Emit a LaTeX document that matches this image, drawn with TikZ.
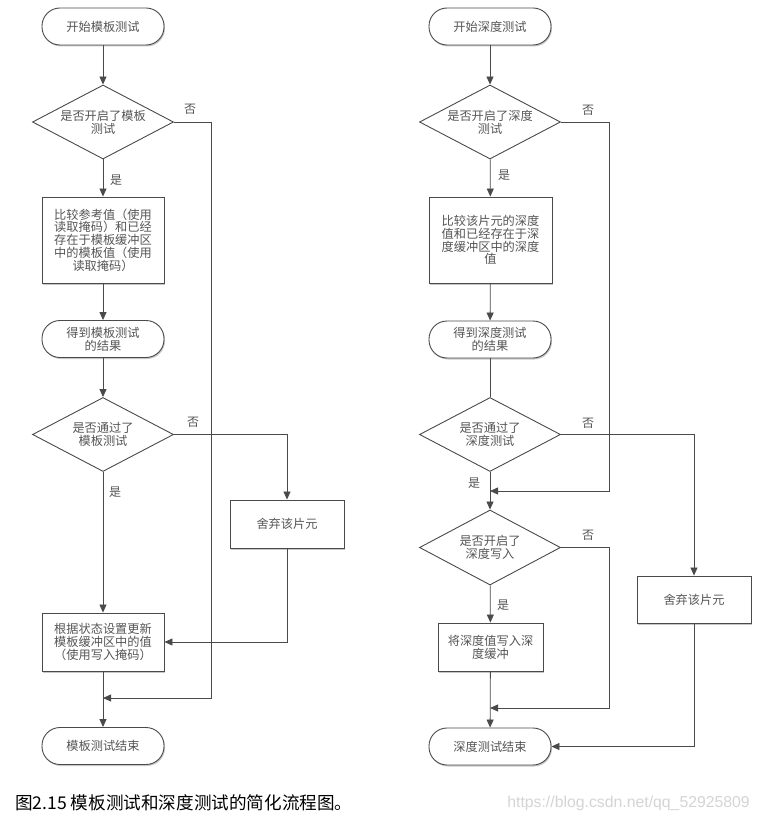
\documentclass[tikz,border=0pt]{standalone}
\usepackage{fontspec}
\setmainfont{Liberation Sans}
\newfontfamily\cjk{Noto Sans CJK SC}
\usetikzlibrary{shapes.geometric,arrows.meta,shadows}
\definecolor{linec}{HTML}{4A4A4A}
\definecolor{txtc}{HTML}{555555}
\definecolor{wmc}{HTML}{D4D4D4}
\tikzset{
  shad/.style={drop shadow={shadow xshift=1pt,shadow yshift=-1.5pt,fill=black,opacity=.22}},
  boxfont/.style={font=\cjk\fontsize{12.2}{12.8}\selectfont, text=txtc},
  term/.style={draw=linec, line width=0.9pt, fill=white, shad, rectangle, rounded corners=18pt,
    minimum width=122pt, minimum height=37pt, inner sep=0pt, align=center, boxfont},
  proc/.style={draw=linec, line width=0.9pt, fill=white, shad, rectangle,
    inner sep=0pt, align=center, boxfont},
  dia/.style={draw=linec, line width=0.9pt, fill=white, diamond, minimum width=141pt,
    minimum height=74pt, inner sep=0pt},
  diatext/.style={align=center, boxfont, inner sep=0pt},
  yn/.style={font=\cjk\fontsize{12}{12}\selectfont, text=txtc, inner sep=0pt},
  arr/.style={draw=linec, line width=0.8pt, -{Triangle[length=8pt,width=7pt]}},
  ln/.style={draw=linec, line width=0.8pt},
}
\begin{document}
\begin{tikzpicture}[x=1pt,y=-1pt]
\useasboundingbox (0,0) rectangle (758,821);
% ---------- left column ----------
\node[term] (sL) at (103,26.5) {开始模板测试};
\node[dia] (dL1) at (103,122) {};
\node[diatext] at (dL1) {是否开启了模板\\测试};
\node[proc, minimum width=122pt, minimum height=86pt] (bL1) at (103,240)
  {比较参考值（使用\\读取掩码）和已经\\存在于模板缓冲区\\中的模板值（使用\\读取掩码）};
\node[term] (tL2) at (103,339) {得到模板测试\\的结果};
\node[dia] (dL2) at (103,434.5) {};
\node[diatext] at (dL2) {是否通过了\\模板测试};
\node[proc, minimum width=114pt, minimum height=48pt] (discL) at (287,524) {舍弃该片元};
\node[proc, minimum width=122pt, minimum height=58pt] (upL) at (103,642)
  {根据状态设置更新\\模板缓冲区中的值\\（使用写入掩码）};
\node[term] (eL) at (103,746) {模板测试结束};
\coordinate (cL1) at (211,698);
\coordinate (mL1) at (103,698);
\draw[arr] (sL) -- (dL1);
\draw[arr] (dL1) -- (bL1);
\draw[arr] (bL1) -- (tL2);
\draw[arr] (tL2) -- (dL2);
\draw[arr] (dL2) -- (upL);
\draw[arr] (dL1.east) -| (cL1) -- (mL1);
\draw[arr] (dL2.east) -| (discL.north);
\draw[arr] (discL.south) |- (upL.east);
\draw[arr] (upL) -- (eL);
\node[yn] at (190,109) {否};
\node[yn] at (116,180) {是};
\node[yn] at (193,422) {否};
\node[yn] at (115,492) {是};
% ---------- right column ----------
\node[term] (sR) at (490,26.5) {开始深度测试};
\node[dia] (dR1) at (490,122) {};
\node[diatext] at (dR1) {是否开启了深度\\测试};
\node[proc, minimum width=123pt, minimum height=86pt] (bR1) at (490.5,240)
  {比较该片元的深度\\值和已经存在于深\\度缓冲区中的深度\\值};
\node[term] (tR2) at (490,339.5) {得到深度测试\\的结果};
\node[dia] (dR2) at (490,434.5) {};
\node[diatext] at (dR2) {是否通过了\\深度测试};
\node[dia, minimum height=75pt] (dR3) at (490,547.5) {};
\node[diatext] at (dR3) {是否开启了\\深度写入};
\node[proc, minimum width=105pt, minimum height=48pt] (bR2) at (490.5,647) {将深度值写入深\\度缓冲};
\node[proc, minimum width=114pt, minimum height=47pt] (discR) at (694,599.5) {舍弃该片元};
\node[term] (eR) at (490,746.5) {深度测试结束};
\coordinate (cR1) at (609,491);
\coordinate (mR1) at (490,491);
\coordinate (cR3) at (609,708);
\coordinate (mR3) at (490,708);
\draw[arr] (sR) -- (dR1);
\draw[arr] (dR1) -- (bR1);
\draw[arr] (bR1) -- (tR2);
\draw[ln] (tR2) -- (dR2);
\draw[arr] (dR2) -- (dR3);
\draw[arr] (dR1.east) -| (cR1) -- (mR1);
\draw[arr] (dR2.east) -| (discR.north);
\draw[arr] (discR.south) |- (eR.east);
\draw[arr] (dR3) -- (bR2);
\draw[arr] (dR3.east) -| (cR3) -- (mR3);
\draw[arr] (bR2) -- (eR);
\node[yn] at (588,110) {否};
\node[yn] at (504,175) {是};
\node[yn] at (588,423) {否};
\node[yn] at (474,483) {是};
\node[yn] at (588,535) {否};
\node[yn] at (503,605) {是};
% ---------- caption ----------
\node[anchor=west, inner sep=0pt, font=\cjk\fontsize{17.6}{18}\selectfont] (cap) at (15,803)
  {图2.15 模板测试和深度测试的简化流程图。};
\node[anchor=east, inner sep=0pt, text=wmc, font=\fontsize{15.8}{16}\selectfont] (wm) at (750,803)
  {https://blog.csdn.net/qq\_52925809};
\end{tikzpicture}
\end{document}
